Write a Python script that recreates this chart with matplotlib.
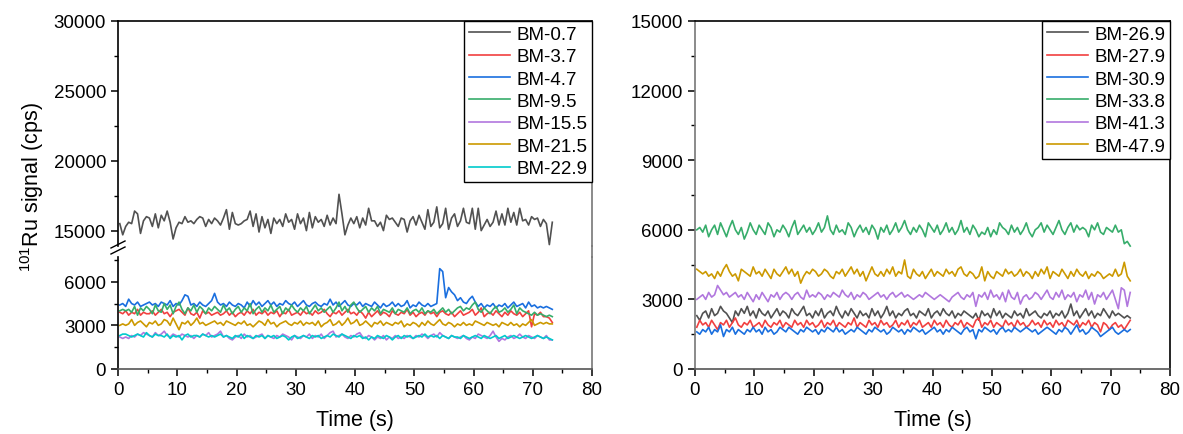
import numpy as np
import matplotlib
matplotlib.use('Agg')
import matplotlib.pyplot as plt
from matplotlib.lines import Line2D
from matplotlib.ticker import MultipleLocator

plt.rcParams['font.family'] = ['Liberation Sans', 'DejaVu Sans']
plt.rcParams['mathtext.fontset'] = 'custom'
plt.rcParams['mathtext.rm'] = 'Liberation Sans'
plt.rcParams['mathtext.default'] = 'regular'

# sampling grid: one reading every 0.5 s from 0.3 s to 73.3 s
t_start, t_step, n_pts = 0.3, 0.5, 147
time = np.round(t_start + t_step * np.arange(n_pts), 1)

# ---- left panel ----
bm_0_7 = [
    15500, 14700, 15300, 15600, 15500, 16400, 16200, 14800, 15700, 16000,
    15900, 15300, 16200, 15200, 16100, 15700, 16400, 15600, 14400, 15200,
    15600, 15500, 16000, 15600, 15700, 15500, 15800, 16000, 15900, 15300,
    15800, 15500, 15900, 15700, 15400, 15900, 16500, 15100, 16300, 15500,
    15400, 15500, 15700, 15800, 16400, 15300, 16200, 14900, 16000, 15200,
    15800, 14800, 15900, 15500, 15800, 15300, 16200, 15600, 15800, 15100,
    16200, 15500, 15900, 15000, 16300, 15200, 16000, 15600, 15800, 15300,
    16100, 15400, 15900, 15500, 17600, 16200, 14700, 15400, 15900, 15500,
    16000, 15200, 15900, 15400, 16600, 15700, 15700, 15300, 15600, 15000,
    16100, 15800, 15900, 15600, 15300, 15900, 15800, 14900, 15700, 16000,
    15400, 16100, 15600, 15100, 16500, 15300, 15600, 16700, 15200, 15500,
    16600, 15100, 15900, 16200, 15300, 15700, 16600, 15600, 15500, 16600,
    15100, 16600, 15000, 15400, 15800, 15300, 15600, 16400, 15400, 16200,
    15400, 16600, 15600, 16300, 15400, 16600, 15700, 15800, 15400, 16000,
    15800, 15900, 15300, 15800, 15500, 14000, 15600]
bm_3_7 = [
    3900, 3800, 4000, 3700, 3900, 3800, 4100, 3700, 3900, 3800,
    3800, 4000, 3700, 3900, 4100, 3800, 3900, 3600, 3900, 4000,
    4100, 3900, 3700, 4200, 3800, 3700, 3900, 3500, 4000, 3800,
    3900, 3700, 3800, 3900, 3700, 3800, 4000, 3700, 3900, 3600,
    3800, 3900, 3700, 4000, 3800, 4100, 3700, 3900, 3800, 4000,
    3700, 3900, 3800, 4000, 3600, 3900, 3800, 4100, 3700, 3800,
    3900, 3700, 4000, 3800, 3900, 3700, 4000, 3800, 3900, 4100,
    3800, 3600, 3900, 3800, 4000, 3700, 3900, 4100, 3800, 3900,
    3700, 4000, 3800, 3500, 3900, 3600, 3800, 4000, 3700, 3900,
    3800, 3600, 4000, 3800, 3700, 3900, 3800, 4100, 3700, 3900,
    3600, 3800, 3900, 3700, 4000, 3800, 3900, 3600, 3900, 4000,
    3800, 3700, 3900, 3600, 3800, 4000, 3700, 3800, 3900, 4100,
    3700, 3900, 4200, 3600, 3800, 3900, 3700, 4000, 3800, 3600,
    3900, 3700, 4000, 3800, 3700, 3900, 3600, 3800, 4000, 2900,
    3800, 3700, 3900, 3600, 3600, 3500, 3200]
bm_4_7 = [
    4400, 4500, 4300, 4800, 4500, 4400, 4600, 4300, 4400, 4500,
    4600, 4400, 4500, 4300, 4600, 4500, 4400, 4700, 4300, 4500,
    4400, 4700, 5100, 5000, 4400, 4500, 4300, 4600, 4400, 4300,
    4500, 4700, 5200, 4600, 4400, 4500, 4300, 4600, 4400, 4300,
    4500, 4400, 4200, 4600, 4300, 4700, 4400, 4600, 4300, 4500,
    4700, 4400, 4600, 4300, 4500, 4400, 4700, 4500, 4400, 4600,
    4300, 4500, 4700, 4400, 4300, 4500, 4600, 4400, 4300, 4500,
    4400, 4800, 4400, 4600, 4300, 4500, 4700, 4400, 4300, 4500,
    4400, 4600, 4300, 4500, 4400, 4300, 4600, 4400, 4200, 4500,
    4300, 4400, 4600, 4300, 4500, 4300, 4400, 4700, 4200, 4400,
    4300, 4600, 4400, 4300, 4500, 4300, 4400, 4500, 6900, 6700,
    4900, 5600, 5300, 5100, 4700, 4900, 4600, 4500, 4800, 5000,
    4600, 4300, 4500, 4200, 4400, 4300, 4500, 4200, 4400, 4300,
    4500, 4200, 4400, 4600, 4300, 4400, 4500, 4200, 4600, 4300,
    4400, 4200, 4300, 4200, 4300, 4200, 4100]
bm_9_5 = [
    4000, 4100, 4000, 4100, 3900, 4300, 3700, 4200, 4000, 4300,
    4100, 3800, 4400, 4000, 3900, 4500, 4100, 4400, 3800, 4300,
    4600, 4100, 3800, 4200, 4000, 4400, 3900, 4300, 4100, 3800,
    4200, 4000, 4300, 4100, 3900, 4400, 4000, 4200, 3800, 4100,
    4300, 3900, 4200, 4000, 4500, 3800, 4100, 4300, 3900, 4200,
    4000, 4400, 3900, 4100, 4300, 3800, 4200, 4000, 4400, 4100,
    3900, 4200, 4000, 4300, 3800, 4100, 4400, 4000, 4200, 3900,
    4100, 4300, 3900, 4200, 4600, 4000, 4300, 3900, 4400, 4600,
    4200, 3900, 4100, 4300, 3900, 4200, 4000, 4300, 3800, 4100,
    4000, 3900, 4200, 3800, 4100, 4000, 3900, 4200, 3800, 4000,
    4100, 3900, 4200, 3800, 4000, 3900, 4100, 3800, 4000, 4200,
    3900, 4100, 3800, 4000, 4200, 4300, 4000, 4200, 4100, 4400,
    4600, 4100, 3900, 4200, 4000, 3800, 4100, 4300, 3900, 4000,
    4200, 3900, 4100, 4400, 3800, 4200, 4000, 3900, 3800, 3700,
    3900, 3700, 3800, 3700, 3600, 3700, 3600]
bm_15_5 = [
    2200, 2100, 2200, 2100, 2300, 2200, 2400, 2300, 2500, 2400,
    2300, 2200, 2500, 2300, 2400, 2600, 2300, 2200, 2400, 2300,
    2200, 2400, 2300, 2200, 2300, 2100, 2300, 2200, 2400, 2300,
    2500, 2200, 2300, 2400, 2600, 2200, 2300, 2100, 2000, 2200,
    2300, 2100, 2400, 2200, 2300, 2100, 2200, 2300, 2400, 2100,
    2300, 2200, 2100, 2300, 2200, 2400, 2300, 2200, 2000, 2300,
    2200, 2100, 2300, 2200, 2400, 2100, 2300, 2200, 2400, 2100,
    2300, 2500, 2600, 2200, 2300, 2400, 2200, 2100, 2300, 2200,
    2400, 2500, 2200, 2100, 2300, 2200, 2000, 2200, 2100, 2300,
    2000, 2200, 2100, 2300, 2100, 2200, 2100, 2300, 2200, 2100,
    2300, 2200, 2400, 2300, 2100, 2300, 2400, 2200, 2500, 2300,
    2200, 2100, 2300, 2200, 2100, 2200, 2300, 2100, 2000, 2200,
    2100, 2400, 2300, 2200, 2100, 2300, 2600, 2200, 1900, 2100,
    2000, 2200, 2300, 2100, 2200, 2400, 2200, 2100, 2300, 2200,
    2100, 2300, 2200, 2100, 2300, 2000, 2000]
bm_21_5 = [
    3000, 3100, 3000, 3100, 3400, 3000, 3200, 3300, 3100, 2900,
    3200, 3100, 3300, 3000, 3100, 3400, 3300, 3000, 3500, 3100,
    2700, 3200, 3100, 3300, 3000, 3200, 3500, 3100, 3200, 3000,
    3100, 3200, 3300, 3100, 3200, 3000, 3300, 3200, 3100, 3000,
    3200, 3100, 3300, 3000, 3100, 2900, 3100, 3300, 3200, 3000,
    3400, 3100, 3200, 2900, 3100, 3200, 3300, 3100, 3000, 3200,
    3100, 3300, 3000, 3200, 3100, 3200, 3000, 3300, 2900, 3100,
    3200, 3400, 3000, 3100, 3300, 3000, 3200, 3500, 3100, 3200,
    3400, 3000, 3100, 3300, 3100, 2900, 3200, 3100, 3300, 3000,
    3200, 3100, 3000, 3200, 3100, 3300, 2900, 3100, 3000, 3200,
    3100, 2900, 3200, 3000, 3300, 3100, 3000, 3200, 3400, 3100,
    3000, 3200, 3100, 2900, 3100, 3000, 3200, 3000, 3100, 3000,
    3300, 3200, 3100, 3000, 3200, 3100, 3000, 3100, 2900, 3200,
    3100, 3000, 3200, 3000, 3100, 2900, 3100, 3000, 3200, 3400,
    3000, 3100, 3200, 3100, 3200, 3100, 3100]
bm_22_9 = [
    2300, 2400, 2400, 2300, 2200, 2300, 2400, 2300, 2200, 2500,
    2300, 2200, 2400, 2300, 2300, 2200, 2400, 2100, 2300, 2200,
    2300, 2000, 2300, 2400, 2200, 2300, 2300, 2200, 2400, 2300,
    2200, 2300, 2200, 2300, 2400, 2200, 2300, 2200, 2100, 2300,
    2200, 2400, 2100, 2300, 2200, 2100, 2300, 2200, 2300, 2100,
    2300, 2200, 2300, 2100, 2200, 2300, 2200, 2000, 2200, 2300,
    2100, 2200, 2300, 2200, 2100, 2300, 2200, 2300, 2100, 2200,
    2300, 2200, 2400, 2300, 2200, 2400, 2300, 2200, 2100, 2300,
    2200, 2300, 2100, 2200, 2000, 2200, 2100, 2300, 2200, 2100,
    2300, 2200, 2000, 2200, 2300, 2100, 2300, 2200, 2300, 2100,
    2200, 2300, 2200, 2400, 2200, 2300, 2200, 2300, 2100, 2300,
    2200, 2100, 2300, 2200, 2200, 2100, 2300, 2200, 2100, 2200,
    2300, 2200, 2100, 2300, 2200, 2100, 2200, 2300, 2100, 2200,
    2300, 2100, 2200, 2300, 2200, 2100, 2200, 2300, 2200, 2100,
    2200, 2300, 2200, 2100, 2200, 2100, 2000]

# ---- right panel ----
bm_26_9 = [
    2300, 2100, 2400, 2500, 2200, 2600, 2300, 2400, 2700, 2500,
    2400, 2200, 2000, 2500, 2300, 2600, 2400, 2700, 2300, 2500,
    2200, 2600, 2400, 2300, 2500, 2200, 2400, 2600, 2300, 2500,
    2400, 2200, 2600, 2400, 2300, 2500, 2700, 2300, 2400, 2200,
    2500, 2300, 2600, 2200, 2400, 2500, 2300, 2700, 2400, 2200,
    2500, 2300, 2600, 2400, 2200, 2500, 2300, 2400, 2200, 2600,
    2300, 2500, 2200, 2400, 2700, 2300, 2500, 2200, 2400, 2300,
    2500, 2600, 2300, 2400, 2200, 2500, 2400, 2300, 2600, 2200,
    2400, 2500, 2300, 2600, 2400, 2300, 2500, 2200, 2400, 2300,
    2500, 2400, 2300, 2200, 2400, 2100, 2500, 2300, 2400, 2200,
    2600, 2300, 2500, 2200, 2400, 2300, 2200, 2500, 2300, 2400,
    2200, 2600, 2300, 2400, 2500, 2300, 2200, 2400, 2300, 2500,
    2200, 2400, 2300, 2500, 2200, 2400, 2800, 2300, 2500, 2200,
    2400, 2600, 2300, 2500, 2200, 2400, 2300, 2600, 2400, 2200,
    2500, 2300, 2400, 2300, 2200, 2300, 2200]
bm_27_9 = [
    1800, 2100, 1900, 2000, 1800, 2100, 1900, 1700, 2000, 1900,
    2100, 1800, 2000, 2200, 1900, 1800, 2000, 1900, 2100, 1800,
    1900, 2000, 1800, 2100, 1900, 1800, 2000, 1900, 2100, 1800,
    2000, 1900, 1800, 2100, 1900, 2000, 1800, 2100, 1900, 2000,
    1800, 1900, 2100, 1800, 2000, 1900, 2100, 1800, 2000, 1900,
    1800, 2000, 1900, 2200, 1800, 2000, 1900, 1800, 2100, 1900,
    2000, 1800, 2100, 1900, 2000, 1800, 1900, 2100, 1800, 2000,
    1900, 2100, 1800, 2000, 1900, 2100, 1800, 1900, 2000, 1800,
    2100, 1900, 2000, 1800, 2100, 1900, 1800, 2000, 1900, 2100,
    1800, 2000, 1900, 1800, 2100, 2200, 1800, 2000, 1900, 2100,
    1800, 2000, 1900, 1800, 2100, 1900, 2000, 1800, 2100, 1900,
    2000, 1800, 1900, 2100, 1900, 2000, 1800, 2100, 1900, 2000,
    1800, 2100, 1900, 2000, 1800, 2100, 2000, 1900, 2100, 1800,
    2000, 1900, 2100, 1800, 2000, 1900, 1600, 2000, 1900, 1700,
    1900, 2000, 1800, 1900, 1700, 1900, 2100]
bm_30_9 = [
    1600, 1500, 1700, 1600, 1800, 1500, 1700, 1600, 1900, 1400,
    1700, 1600, 1800, 1500, 1700, 1600, 1500, 1700, 1600, 1800,
    1600, 1700, 1500, 1800, 1600, 1700, 1500, 1600, 1800, 1700,
    1600, 1800, 1700, 1600, 1500, 1700, 1600, 1800, 1700, 1600,
    1700, 1500, 1700, 1600, 1800, 1700, 1600, 1800, 1600, 1700,
    1500, 1600, 1700, 1600, 1800, 1700, 1600, 1500, 1700, 1600,
    1800, 1700, 1600, 1700, 1500, 1600, 1800, 1700, 1600, 1700,
    1500, 1700, 1600, 1800, 1700, 1600, 1700, 1500, 1600, 1700,
    1800, 1600, 1700, 1500, 1700, 1600, 1800, 1700, 1600, 1500,
    1700, 1800, 1600, 1700, 1300, 1700, 1600, 1800, 1700, 1600,
    1700, 1500, 1700, 1800, 1600, 1700, 1600, 1800, 1700, 1600,
    1700, 1800, 1700, 1600, 1700, 1500, 1600, 1700, 1800, 1700,
    1600, 1500, 1700, 1600, 1800, 1700, 1500, 1700, 1900, 1600,
    1700, 1500, 1600, 1800, 1700, 1600, 1400, 1500, 1600, 1700,
    1800, 1600, 1500, 1600, 1700, 1600, 1700]
bm_33_8 = [
    6000, 6100, 5900, 6200, 5700, 6000, 6200, 5800, 6300, 6000,
    5700, 6100, 6400, 6000, 5800, 6100, 5600, 5900, 6300, 6000,
    5800, 6200, 6000, 5800, 6300, 6100, 5700, 6000, 5900, 6200,
    6000, 5700, 6100, 6400, 5800, 6000, 6200, 5900, 6100, 5800,
    6000, 6300, 5900, 6100, 6600, 6000, 5800, 6200, 5900, 6000,
    5800, 6300, 6100, 5700, 6000, 6200, 5900, 6100, 5800, 6200,
    6000, 5600, 6100, 5900, 6200, 5800, 6000, 6300, 5900, 6100,
    6400, 6000, 5800, 6100, 5900, 6200, 6000, 5700, 6300, 6100,
    5900, 6200, 5800, 6000, 6300, 5900, 6100, 5800, 6000, 6400,
    5900, 6100, 5800, 6200, 6000, 5700, 5900, 5800, 6100, 5700,
    6000, 5800, 6300, 6100, 6000, 5800, 6200, 5900, 6100, 5800,
    6000, 6300, 5900, 5700, 6000, 6100, 6300, 5900, 6200, 6000,
    5800, 6100, 6400, 6000, 5800, 6100, 6300, 5900, 6200, 6000,
    6100, 6000, 5700, 6200, 6000, 6300, 5900, 5800, 6100, 6000,
    5900, 6200, 5900, 6000, 5400, 5500, 5300]
bm_41_3 = [
    3000, 3100, 3200, 3000, 3300, 3100, 3200, 3600, 3400, 3200,
    3300, 3100, 3200, 3300, 3100, 3200, 3000, 3300, 3100, 2900,
    3200, 3000, 3300, 3100, 2900, 3200, 3100, 3300, 3000, 3200,
    3300, 3200, 3000, 3200, 3300, 3100, 3000, 3400, 3100, 3200,
    3100, 3300, 3200, 3000, 3200, 3100, 3300, 3200, 3100, 3400,
    3200, 3100, 3300, 3000, 3200, 3100, 3300, 3200, 3000, 3100,
    3200, 3300, 3100, 3200, 3000, 3200, 3300, 3100, 3200, 3300,
    3100, 3200, 3100, 3000, 3100, 3200, 3100, 3300, 3200, 3100,
    3000, 3100, 3200, 3100, 3000, 2900, 3100, 3200, 3300, 3100,
    3000, 3200, 3100, 3300, 2700, 3200, 3100, 3300, 3000, 3400,
    3100, 3200, 3000, 3300, 2900, 3400, 3100, 3000, 3300, 2800,
    3100, 3200, 3000, 3100, 3300, 3200, 3000, 3200, 3400, 3100,
    3000, 3300, 3100, 3400, 3000, 3200, 3100, 3300, 2900, 3200,
    3100, 3400, 3000, 3300, 2800, 3200, 3100, 3300, 3000, 3200,
    3400, 3000, 2600, 3500, 3400, 2700, 3300]
bm_47_9 = [
    4300, 4200, 4100, 4200, 4000, 4100, 3900, 4200, 4000, 4300,
    4500, 4200, 4000, 4100, 3800, 4300, 4200, 4100, 4000, 4400,
    4100, 4200, 4000, 4300, 4100, 3900, 4300, 4100, 4000, 4200,
    4400, 4100, 4300, 4000, 4200, 3700, 4000, 4200, 4100, 4300,
    4200, 4000, 4100, 4300, 4200, 4000, 3900, 4200, 4100, 4300,
    4000, 4200, 4400, 4100, 4300, 4000, 4200, 3800, 4100, 4400,
    4100, 4000, 4200, 4000, 4300, 4100, 4400, 4000, 4200, 4100,
    4700, 4000, 3900, 4300, 4100, 4000, 4200, 3900, 4100, 4300,
    4000, 4200, 4100, 4000, 4300, 4100, 4200, 4000, 4300, 4400,
    4100, 4000, 4200, 4100, 3900, 4000, 4400, 3800, 4200, 4000,
    3900, 4200, 4100, 4000, 4300, 4100, 4200, 4000, 4100, 4300,
    4000, 4200, 4100, 3900, 4200, 4000, 4300, 4100, 4400, 3900,
    4200, 4100, 4000, 4300, 4100, 3900, 4200, 4000, 4300, 4100,
    4000, 4200, 3900, 4100, 4000, 4200, 4100, 3900, 4000, 4100,
    4000, 4300, 4000, 4100, 4600, 4000, 3800]

left_labels = ['BM-0.7', 'BM-3.7', 'BM-4.7', 'BM-9.5', 'BM-15.5', 'BM-21.5', 'BM-22.9']
left_data = [bm_0_7, bm_3_7, bm_4_7, bm_9_5, bm_15_5, bm_21_5, bm_22_9]
right_labels = ['BM-26.9', 'BM-27.9', 'BM-30.9', 'BM-33.8', 'BM-41.3', 'BM-47.9']
right_data = [bm_26_9, bm_27_9, bm_30_9, bm_33_8, bm_41_3, bm_47_9]
colors = ['#515151', '#F14040', '#1A6FDF', '#37AD6B', '#B177DE', '#CC9900', '#00CBCC']

W, H = 1183, 435
def box(l, t, r, b):
    return [l / W, 1 - b / H, (r - l) / W, (b - t) / H]

fig = plt.figure(figsize=(W / 100, H / 100), dpi=100)
ax_up = fig.add_axes(box(118, 22, 592, 247))
ax_lo = fig.add_axes(box(118, 258, 592, 370))
ax_r = fig.add_axes(box(695, 22, 1170, 370))

for lab, y, c in zip(left_labels, left_data, colors):
    ax_up.plot(time, y, color=c, lw=1.2, label=lab)
    ax_lo.plot(time, y, color=c, lw=1.2)
for lab, y, c in zip(right_labels, right_data, colors):
    ax_r.plot(time, y, color=c, lw=1.2, label=lab)

for ax in (ax_up, ax_lo, ax_r):
    ax.set_xlim(0, 80)
    ax.tick_params(which='major', direction='out', length=5, width=1.1, labelsize=13.5)
    ax.tick_params(which='minor', direction='out', length=3, width=1.0)
    ax.xaxis.set_major_locator(MultipleLocator(10))
    ax.xaxis.set_minor_locator(MultipleLocator(5))
    for s in ax.spines.values():
        s.set_linewidth(1.2)

ax_up.set_ylim(13900, 30000)
ax_up.yaxis.set_major_locator(MultipleLocator(5000))
ax_up.yaxis.set_minor_locator(MultipleLocator(2500))
ax_up.spines['bottom'].set_visible(False)
ax_up.tick_params(axis='x', which='both', bottom=False, labelbottom=False)
ax_up.spines['right'].set_color('#777777')

ax_lo.set_ylim(0, 7700)
ax_lo.yaxis.set_major_locator(MultipleLocator(3000))
ax_lo.yaxis.set_minor_locator(MultipleLocator(1500))
ax_lo.spines['top'].set_visible(False)
ax_lo.spines['right'].set_color('#777777')
ax_lo.spines['bottom'].set_color('#555555')
ax_lo.set_xlabel('Time (s)', fontsize=15.5, labelpad=8)

ax_r.set_ylim(0, 15000)
ax_r.yaxis.set_major_locator(MultipleLocator(3000))
ax_r.yaxis.set_minor_locator(MultipleLocator(1500))
ax_r.spines['left'].set_color('#777777')
ax_r.spines['bottom'].set_color('#555555')
ax_r.set_xlabel('Time (s)', fontsize=15.5, labelpad=8)

# continuous right edge across the break
p_up, p_lo = ax_up.get_position(), ax_lo.get_position()
fig.add_artist(Line2D([p_up.x1, p_lo.x1], [p_up.y0, p_lo.y1], transform=fig.transFigure,
                      color='#777777', lw=1.2))
# break marks on the left axis
for dy in (-5, 1):
    y0 = (H - 247 + dy - 3) / H
    fig.add_artist(Line2D([111 / W, 125 / W], [y0, y0 + 7 / H], transform=fig.transFigure,
                          color='black', lw=1.0))

fig.text(32 / W, 1 - 187 / H, '$^{101}$Ru signal (cps)', rotation=90, ha='center', va='center',
         fontsize=15.5)

leg_kw = dict(loc='upper right', borderaxespad=0, fancybox=False, edgecolor='black',
              fontsize=13.5, handlelength=2.2, handletextpad=0.35, labelspacing=0.28,
              borderpad=0.25, framealpha=1)
for ax in (ax_up, ax_r):
    leg = ax.legend(**leg_kw)
    leg.get_frame().set_linewidth(1.0)

fig.savefig('out.png', dpi=100)
